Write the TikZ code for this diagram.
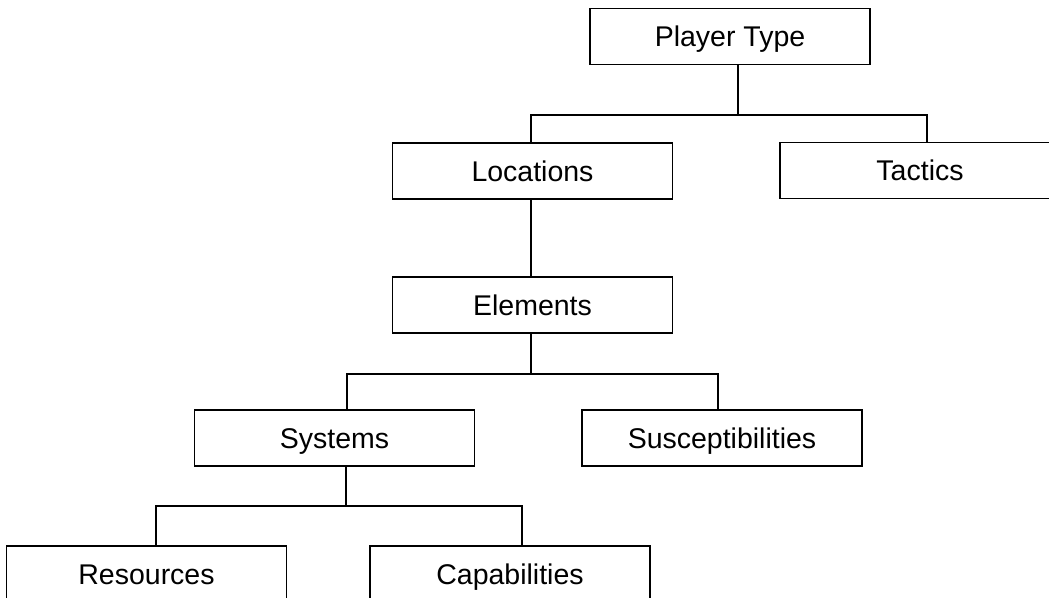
\documentclass[tikz,border=0pt]{standalone}
\usepackage{fontspec}
\setmainfont{Liberation Sans}
\begin{document}
\begin{tikzpicture}[x=1pt,y=-1pt,
  box/.style={draw=black, line width=1.9pt, rectangle, inner sep=0pt,
    minimum width=280pt, minimum height=56pt, fill=white,
    text height=20.4pt, text depth=0pt,
    font=\fontsize{28.5}{34}\selectfont},
  link/.style={draw=black, line width=1.9pt}]
  \useasboundingbox (0,0) rectangle (1049,597);
  \clip (0,0) rectangle (1049,597);
  \fill[white] (0,0) rectangle (1049,597);

  % tree of boxes
  \node[box] (ptype) at (730,36.5) {Player Type};
  \node[box] (loc)   at (532.5,171) {Locations};
  \node[box] (tac)   at (920,170.5) {Tactics};
  \node[box] (elem)  at (532.5,305) {Elements};
  \node[box] (sys)   at (334.5,438) {Systems};
  \node[box] (susc)  at (722,438) {Susceptibilities};
  \node[box] (res)   at (146.5,574) {Resources};
  \node[box] (cap)   at (510,574) {Capabilities};

  % junction points of the elbow connectors
  \coordinate (j1) at (738,115);
  \coordinate (j2) at (531,374);
  \coordinate (j3) at (346,506);

  \draw[link] ([xshift=8pt]ptype.south) -- (j1);
  \draw[link] ([xshift=-1.5pt]loc.north) |- (j1) -| ([xshift=7pt]tac.north);
  \draw[link] ([xshift=-1.5pt]loc.south) -- ([xshift=-1.5pt]elem.north);
  \draw[link] ([xshift=-1.5pt]elem.south) -- (j2);
  \draw[link] ([xshift=12.5pt]sys.north) |- (j2) -| ([xshift=-4pt]susc.north);
  \draw[link] ([xshift=11.5pt]sys.south) -- (j3);
  \draw[link] ([xshift=9.5pt]res.north) |- (j3) -| ([xshift=12pt]cap.north);
\end{tikzpicture}
\end{document}
